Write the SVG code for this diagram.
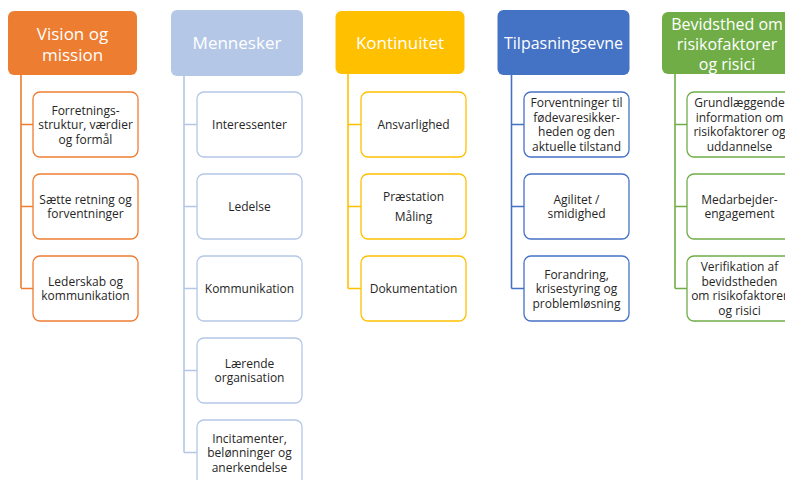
<svg xmlns="http://www.w3.org/2000/svg" width="785" height="480" viewBox="0 0 785 480">
<style>
  .hdr { stroke: none; }
  .child { fill: #ffffff; stroke-width: 1.3; }
  .conn { fill: none; stroke-width: 1.6; }
  .ht { font-family: "Open Sans", "Liberation Sans", sans-serif; font-size: 17px; fill: #ffffff; text-anchor: middle; }
  .ct { font-family: "Open Sans", "Liberation Sans", sans-serif; font-size: 12px; fill: #262626; text-anchor: middle; }
  .c1 { stroke: #ED7D31; } .f1 { fill: #ED7D31; }
  .c2 { stroke: #B4C7E7; } .f2 { fill: #B4C7E7; }
  .c3 { stroke: #FFC000; } .f3 { fill: #FFC000; }
  .c4 { stroke: #4472C4; } .f4 { fill: #4472C4; }
  .c5 { stroke: #70AD47; } .f5 { fill: #70AD47; }
</style>
<rect width="785" height="480" fill="#ffffff"/>

<g id="connectors">
  <path class="conn c1" d="M21 75 V288 M21 124.5 H33 M21 206.5 H33 M21 288.5 H33"/>
  <path class="conn c2" d="M184 76 V452.5 M184 124.5 H197 M184 206.5 H197 M184 288.5 H197 M184 370.5 H197 M184 452.5 H197"/>
  <path class="conn c3" d="M348 74 V288.5 M348 124.5 H361 M348 206.5 H361 M348 288.5 H361"/>
  <path class="conn c4" d="M511.5 75 V288.5 M511.5 124.5 H524 M511.5 206.5 H524 M511.5 288.5 H524"/>
  <path class="conn c5" d="M675 74 V288.5 M675 124.5 H687 M675 206.5 H687 M675 288.5 H687"/>
</g>

<!-- Column 1 -->
<g id="h1"><rect class="hdr f1" x="8" y="11" width="129" height="64" rx="6"/>
  <text class="ht" x="72.5" y="39.5">Vision og</text><text class="ht" x="72.5" y="60.5">mission</text></g>
<g id="n1a"><rect class="child c1" x="33" y="92" width="105" height="65" rx="7"/>
  <text class="ct" x="85.5" y="114.5">Forretnings-</text><text class="ct" x="85.5" y="129">struktur, værdier</text><text class="ct" x="85.5" y="143.5">og formål</text></g>
<g id="n1b"><rect class="child c1" x="33" y="174" width="105" height="65" rx="7"/>
  <text class="ct" x="85.5" y="203.75">Sætte retning og</text><text class="ct" x="85.5" y="218.25">forventninger</text></g>
<g id="n1c"><rect class="child c1" x="33" y="256" width="105" height="65" rx="7"/>
  <text class="ct" x="85.5" y="285.75">Lederskab og</text><text class="ct" x="85.5" y="300.25">kommunikation</text></g>

<!-- Column 2 -->
<g id="h2"><rect class="hdr f2" x="171" y="10" width="132" height="66" rx="6"/>
  <text class="ht" x="237" y="49">Mennesker</text></g>
<g id="n2a"><rect class="child c2" x="197" y="92" width="105" height="65" rx="7"/>
  <text class="ct" x="249.5" y="129">Interessenter</text></g>
<g id="n2b"><rect class="child c2" x="197" y="174" width="105" height="65" rx="7"/>
  <text class="ct" x="249.5" y="211">Ledelse</text></g>
<g id="n2c"><rect class="child c2" x="197" y="256" width="105" height="65" rx="7"/>
  <text class="ct" x="249.5" y="293">Kommunikation</text></g>
<g id="n2d"><rect class="child c2" x="197" y="338" width="105" height="65" rx="7"/>
  <text class="ct" x="249.5" y="367.75">Lærende</text><text class="ct" x="249.5" y="382.25">organisation</text></g>
<g id="n2e"><rect class="child c2" x="197" y="420" width="105" height="65" rx="7"/>
  <text class="ct" x="249.5" y="442.5">Incitamenter,</text><text class="ct" x="249.5" y="457">belønninger og</text><text class="ct" x="249.5" y="471.5">anerkendelse</text></g>

<!-- Column 3 -->
<g id="h3"><rect class="hdr f3" x="335.5" y="11" width="129" height="63" rx="6"/>
  <text class="ht" x="400" y="49">Kontinuitet</text></g>
<g id="n3a"><rect class="child c3" x="361" y="92" width="105" height="65" rx="7"/>
  <text class="ct" x="413.5" y="129">Ansvarlighed</text></g>
<g id="n3b"><rect class="child c3" x="361" y="174" width="105" height="65" rx="7"/>
  <text class="ct" x="413.5" y="200.7">Præstation</text><text class="ct" x="413.5" y="220.7">Måling</text></g>
<g id="n3c"><rect class="child c3" x="361" y="256" width="105" height="65" rx="7"/>
  <text class="ct" x="413.5" y="293">Dokumentation</text></g>

<!-- Column 4 -->
<g id="h4"><rect class="hdr f4" x="497.5" y="10" width="132" height="65" rx="6"/>
  <text class="ht" x="563.5" y="49" style="font-size:16px">Tilpasningsevne</text></g>
<g id="n4a"><rect class="child c4" x="524" y="92" width="105" height="65" rx="7"/>
  <text class="ct" x="576.5" y="107.25">Forventninger til</text><text class="ct" x="576.5" y="121.75">fødevaresikker-</text><text class="ct" x="576.5" y="136.25">heden og den</text><text class="ct" x="576.5" y="150.75">aktuelle tilstand</text></g>
<g id="n4b"><rect class="child c4" x="524" y="174" width="105" height="65" rx="7"/>
  <text class="ct" x="576.5" y="203.75">Agilitet /</text><text class="ct" x="576.5" y="218.25">smidighed</text></g>
<g id="n4c"><rect class="child c4" x="524" y="256" width="105" height="65" rx="7"/>
  <text class="ct" x="576.5" y="278.5">Forandring,</text><text class="ct" x="576.5" y="293">krisestyring og</text><text class="ct" x="576.5" y="307.5">problemløsning</text></g>

<!-- Column 5 -->
<g id="h5"><rect class="hdr f5" x="662" y="12" width="130" height="62" rx="6"/>
  <text class="ht" x="727" y="29.5" style="font-size:16px">Bevidsthed om</text><text class="ht" x="727" y="49.5" style="font-size:16px">risikofaktorer</text><text class="ht" x="727" y="69.5" style="font-size:16px">og risici</text></g>
<g id="n5a"><rect class="child c5" x="687" y="92" width="105" height="65" rx="7"/>
  <text class="ct" x="739.5" y="107.25">Grundlæggende</text><text class="ct" x="739.5" y="121.75">information om</text><text class="ct" x="739.5" y="136.25">risikofaktorer og</text><text class="ct" x="739.5" y="150.75">uddannelse</text></g>
<g id="n5b"><rect class="child c5" x="687" y="174" width="105" height="65" rx="7"/>
  <text class="ct" x="739.5" y="203.75">Medarbejder-</text><text class="ct" x="739.5" y="218.25">engagement</text></g>
<g id="n5c"><rect class="child c5" x="687" y="256" width="105" height="65" rx="7"/>
  <text class="ct" x="739.5" y="271.25">Verifikation af</text><text class="ct" x="739.5" y="285.75">bevidstheden</text><text class="ct" x="739.5" y="300.25">om risikofaktorer</text><text class="ct" x="739.5" y="314.75">og risici</text></g>
</svg>
